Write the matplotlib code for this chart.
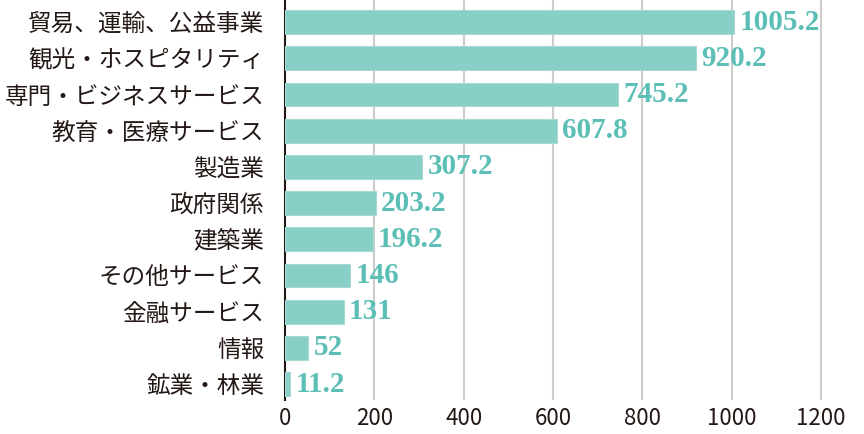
import numpy as np
import matplotlib
matplotlib.use("Agg")
import matplotlib.pyplot as plt

plt.rcParams['font.family'] = ['Noto Sans CJK JP', 'DejaVu Sans']

# Data
categories = ["貿易、運輸、公益事業", "観光・ホスピタリティ", "専門・ビジネスサービス",
              "教育・医療サービス", "製造業", "政府関係", "建築業", "その他サービス",
              "金融サービス", "情報", "鉱業・林業"]
values = [1005.2, 920.2, 745.2, 607.8, 307.2, 203.2, 196.2, 146, 131, 52, 11.2]
value_labels = ["1005.2", "920.2", "745.2", "607.8", "307.2", "203.2", "196.2",
                "146", "131", "52", "11.2"]
xticks = [0, 200, 400, 600, 800, 1000, 1200]

bar_color = "#88cfc8"
text_color = "#5cbfb6"

fig = plt.figure(figsize=(8.64, 4.34), dpi=100)
ax = fig.add_axes([285 / 864, 34 / 434, 1 - 285 / 864, 400 / 434])

y = np.arange(len(categories))
ax.barh(y, values, height=0.66, color=bar_color, edgecolor="#a6dbd5",
        linewidth=0.8, zorder=2)

for yi, v, lab in zip(y, values, value_labels):
    ax.text(v + 12, yi, lab, va="center", ha="left", color=text_color,
            fontsize=21, fontweight="bold", family="Liberation Serif", zorder=3)

ax.set_xlim(0, 1296)
ax.set_ylim(10.44, -0.61)
ax.set_yticks(y)
ax.set_yticklabels(categories, fontsize=17, color="#231815")
ax.set_xticks(xticks)
ax.set_xticklabels([str(t) for t in xticks], fontsize=16, color="#231815")
ax.tick_params(axis="both", length=0)
ax.tick_params(axis="y", pad=15)
ax.tick_params(axis="x", pad=5)

ax.xaxis.grid(True, color="#cccccc", linewidth=1.5, zorder=0)
ax.set_axisbelow(True)
for s in ["top", "right", "bottom"]:
    ax.spines[s].set_visible(False)
ax.spines["left"].set_color("#231815")
ax.spines["left"].set_linewidth(1.5)
ax.spines["left"].set_zorder(1)

fig.savefig("out.png", dpi=100)
